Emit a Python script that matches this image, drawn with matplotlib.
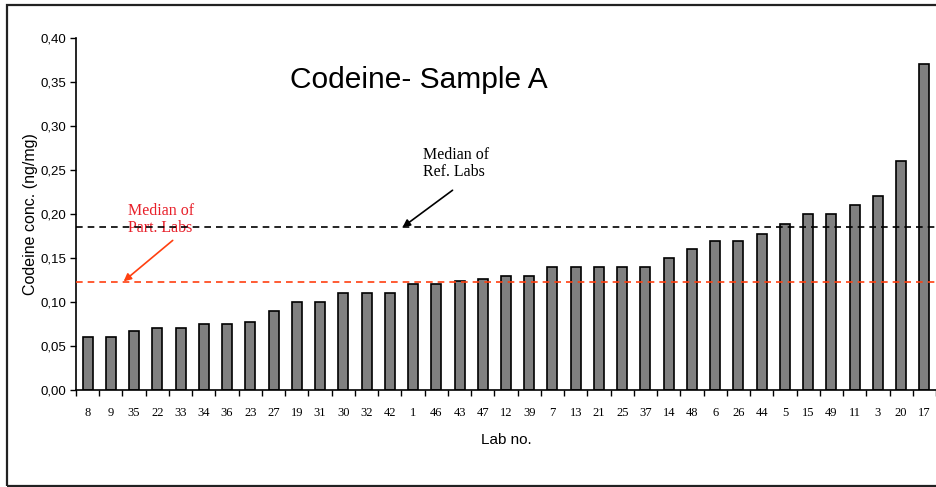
import matplotlib
matplotlib.use('Agg')
import matplotlib.pyplot as plt
import numpy as np
from matplotlib.patches import Rectangle

labs = ['8', '9', '35', '22', '33', '34', '36', '23', '27', '19', '31', '30', '32', '42',
        '1', '46', '43', '47', '12', '39', '7', '13', '21', '25', '37', '14', '48', '6',
        '26', '44', '5', '15', '49', '11', '3', '20', '17']
conc = [0.060, 0.060, 0.067, 0.071, 0.071, 0.075, 0.075, 0.077, 0.090, 0.100, 0.100, 0.110,
        0.110, 0.110, 0.120, 0.120, 0.124, 0.126, 0.130, 0.130, 0.140, 0.140, 0.140, 0.140,
        0.140, 0.150, 0.160, 0.169, 0.169, 0.177, 0.189, 0.200, 0.200, 0.210, 0.220, 0.260,
        0.370]
median_ref = 0.185
median_part = 0.1225

W, H = 937, 487
fig = plt.figure(figsize=(W / 100, H / 100), dpi=100)
ax = fig.add_axes([76 / W, 1 - 390 / H, 860 / W, 352 / H])

# outer frame of the chart area
fig.patches.append(Rectangle((7 / W, 1 - 486 / H), 935 / W, 481 / H, transform=fig.transFigure,
                             fill=False, edgecolor='#222222', linewidth=1.6))

x = np.arange(len(labs))
ax.bar(x, conc, width=0.43, color='#808080', edgecolor='black', linewidth=1.2, zorder=2)

ax.axhline(median_ref, color='black', linestyle=(0, (4, 3)), linewidth=1.2, zorder=3)
ax.axhline(median_part, color='#FF4010', linestyle=(0, (4, 3)), linewidth=1.2, zorder=3)

ax.set_xlim(-0.5, len(labs) - 0.5)
ax.set_ylim(0, 0.40)
yt = np.arange(0, 0.41, 0.05)
ax.set_yticks(yt)
ax.set_yticklabels(['{:.2f}'.format(v).replace('.', ',') for v in yt],
                   fontname='Liberation Sans', fontsize=9.5)
ax.set_xticks(x)
ax.set_xticklabels(labs, fontname='Liberation Serif', fontsize=9)
ax.set_xticks(np.arange(-0.5, len(labs), 1), minor=True)
ax.tick_params(axis='x', which='major', length=0, pad=12)
ax.tick_params(axis='x', which='minor', length=4, width=1)
ax.tick_params(axis='y', length=4, width=1, pad=3)

for side in ['top', 'right']:
    ax.spines[side].set_visible(False)
ax.spines['left'].set_linewidth(1.2)
ax.spines['bottom'].set_linewidth(1.2)

ax.set_ylabel('Codeine conc. (ng/mg)', fontname='Liberation Sans', fontsize=11.5, labelpad=2)
ax.set_xlabel('Lab no.', fontname='Liberation Sans', fontsize=11, labelpad=10)

ax.text(14.24, 0.352, 'Codeine- Sample A', fontname='Liberation Sans', fontsize=21.5,
        ha='center', va='center')

arrow_kw = dict(arrowstyle='-|>', lw=1.2, shrinkA=0, shrinkB=0, mutation_scale=11)

ax.text(14.41, 0.276, 'Median of\nRef. Labs', fontname='Liberation Serif', fontsize=11.5,
        ha='left', va='top', linespacing=1.05)
ax.annotate('', xy=(13.55, median_ref), xytext=(15.70, 0.227),
            arrowprops=dict(color='black', **arrow_kw))

# red label sits under the black median line, as in the original
ax.text(1.72, 0.2125, 'Median of\nPart. Labs', fontname='Liberation Serif', fontsize=11.5,
        color='#E8202A', ha='left', va='top', linespacing=1.05, zorder=2)
ax.annotate('', xy=(1.55, median_part + 0.001), xytext=(3.66, 0.170),
            arrowprops=dict(color='#FF4010', **arrow_kw))

fig.savefig('out.png', dpi=100)
